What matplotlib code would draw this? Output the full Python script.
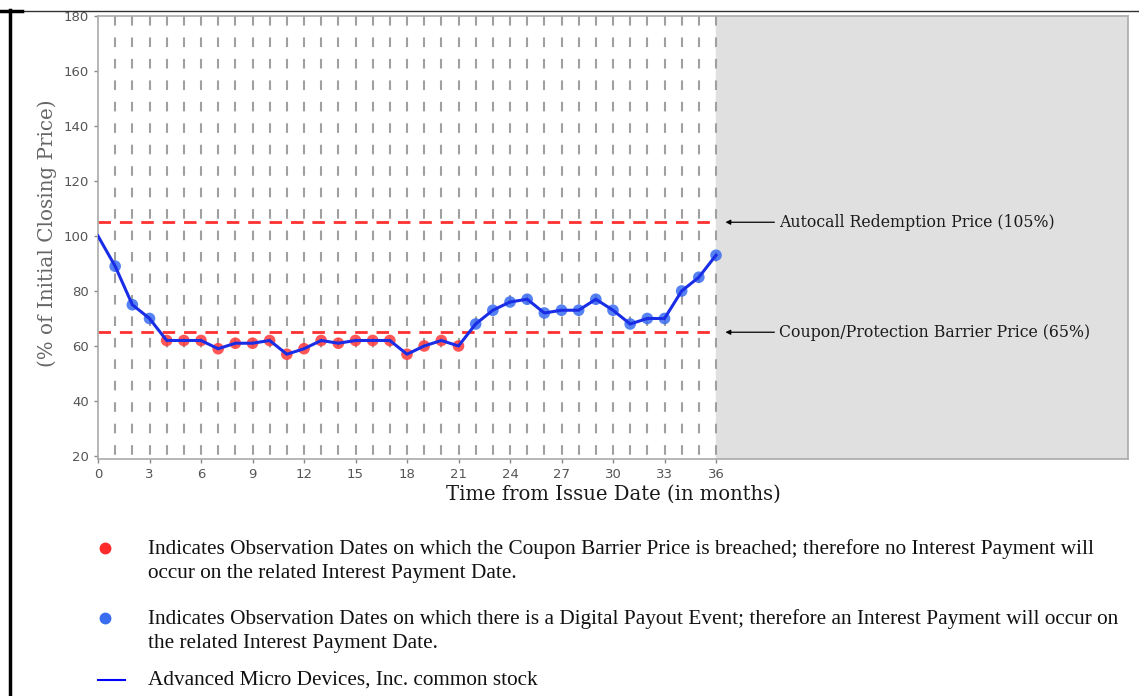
import numpy as np
import matplotlib.pyplot as plt
from matplotlib.lines import Line2D

# data
months = list(range(0, 37))
closing = [100, 89, 75, 70, 62, 62, 62, 59, 61, 61, 62, 57, 59, 62, 61, 62, 62, 62,
           57, 60, 62, 60, 68, 73, 76, 77, 72, 73, 73, 77, 73, 68, 70, 70, 80, 85, 93]
autocall_level = 105
barrier_level = 65
x_ticks = list(range(0, 37, 3))
y_ticks = list(range(20, 181, 20))
label_autocall = 'Autocall Redemption Price (105%)'
label_barrier = 'Coupon/Protection Barrier Price (65%)'
legend_red = ['Indicates Observation Dates on which the Coupon Barrier Price is breached; therefore no Interest Payment will',
              'occur on the related Interest Payment Date.']
legend_blue = ['Indicates Observation Dates on which there is a Digital Payout Event; therefore an Interest Payment will occur on',
               'the related Interest Payment Date.']
legend_line = ['Advanced Micro Devices, Inc. common stock']

W, H = 1139, 696
fig = plt.figure(figsize=(W / 100, H / 100), dpi=100)
ax = fig.add_axes([98 / W, 1 - 459 / H, (1128 - 98) / W, (459 - 16) / H])

ax.set_xlim(0, 60)
ax.set_ylim(18.9, 180)
ax.axvspan(36, 60, color='#e0e0e0', zorder=0)

# vertical dashed grid, one per month
for m in months[1:]:
    ax.plot([m, m], [180, 18.9], color='#a0a0a0', lw=1.5, dashes=(4.6, 5.7), zorder=1)

# barrier lines
for lvl in (autocall_level, barrier_level):
    ax.plot([0, 36], [lvl, lvl], color='#ff3030', lw=2, dashes=(4.5, 3.2), zorder=2)

# markers: red below barrier, blue otherwise (no marker at month 0)
mx = np.array(months[1:])
my = np.array(closing[1:])
below = my < barrier_level
ax.scatter(mx[below], my[below], s=70, color='#ff3a3a', alpha=0.85, edgecolors='none', zorder=3)
ax.scatter(mx[~below], my[~below], s=70, color='#3a6cf0', alpha=0.85, edgecolors='none', zorder=3)
ax.plot(months, closing, color='#1a2de6', lw=2.2, zorder=4)

# annotations to the right
for lvl, txt in ((autocall_level, label_autocall), (barrier_level, label_barrier)):
    ax.annotate('', xy=(36.55, lvl), xytext=(39.4, lvl),
                arrowprops=dict(arrowstyle='-|>', color='black', lw=0.9,
                                mutation_scale=7, shrinkA=0, shrinkB=0))
    ax.text(39.65, lvl, txt, va='center', ha='left', fontsize=11.3,
            family='DejaVu Serif', color='#1a1a1a')

ax.set_xticks(x_ticks)
ax.set_yticks(y_ticks)
ax.tick_params(colors='#888888', labelcolor='#555555', labelsize=9.5, length=3, width=1)
for s in ax.spines.values():
    s.set_color('#aaaaaa')
    s.set_linewidth(1.2)

ax.set_xlabel('Time from Issue Date (in months)', family='DejaVu Serif', fontsize=14.1,
              color='#1a1a1a')
ax.xaxis.set_label_coords((613 - 98) / (1128 - 98), (459 - 485) / (459 - 16))
ax.set_ylabel('(% of Initial Closing Price)', family='DejaVu Serif', fontsize=14.3,
              color='#666666')
ax.yaxis.set_label_coords((57 - 98) / (1128 - 98), (459 - 233) / (459 - 16))

# page frame lines
fig.add_artist(Line2D([22 / W, 1], [1 - 11 / H, 1 - 11 / H], color='#333333', lw=1))
fig.add_artist(Line2D([0, 22 / W], [1 - 11 / H, 1 - 11 / H], color='black', lw=2.5))
fig.add_artist(Line2D([10 / W, 10 / W], [0, 1 - 10 / H], color='black', lw=2.5))

# legend below the chart
fig.add_artist(Line2D([105 / W], [1 - 548 / H], marker='o', markersize=7.5, color='#ff2a2a', lw=0))
fig.add_artist(Line2D([105 / W], [1 - 618 / H], marker='o', markersize=7.5, color='#3a6cf0', lw=0))
fig.add_artist(Line2D([98 / W, 125 / W], [1 - 680 / H, 1 - 680 / H], color='#0000ff', lw=1.5))
tkw = dict(family='Liberation Serif', fontsize=15.3, color='#111111', ha='left', va='center')
for lines, y0 in ((legend_red, 549), (legend_blue, 619), (legend_line, 680)):
    for i, line in enumerate(lines):
        fig.text(148 / W, 1 - (y0 + 24.5 * i) / H, line, **tkw)

fig.savefig('out.png', dpi=100)
